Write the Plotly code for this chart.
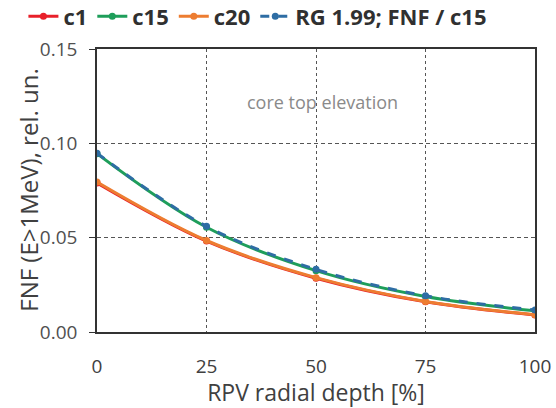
import plotly.graph_objects as go

depth = [0, 25, 50, 75, 100]
c1 = [0.0790, 0.0482, 0.0285, 0.0160, 0.0090]
c15 = [0.0945, 0.0555, 0.0325, 0.0188, 0.0112]
c20 = [0.0795, 0.0485, 0.0288, 0.0162, 0.0092]
rg = [0.0948, 0.0560, 0.0332, 0.0192, 0.0117]

series = [
    ("c1", c1, "#e8202a", "solid"),
    ("c15", c15, "#1e9e5a", "solid"),
    ("c20", c20, "#ed7d31", "solid"),
    ("RG 1.99; FNF / c15", rg, "#2e6da4", "dash"),
]

fig = go.Figure()
for name, vals, col, dash in series:
    fig.add_trace(go.Scatter(
        x=depth, y=vals, name="<b>" + name + "</b>", mode="lines+markers",
        line=dict(color=col, width=3, dash=dash, shape="spline"),
        marker=dict(size=7, color=col),
    ))

fig.add_annotation(x=51.4, y=0.122, text="core top elevation", showarrow=False,
                   font=dict(size=18, color="#8a8a8a", family="Open Sans"))
fig.add_annotation(xref="paper", yref="paper", x=-0.157, y=0.5, textangle=-90,
                   text="FNF (E>1MeV), rel. un.", showarrow=False,
                   xanchor="center", yanchor="middle",
                   font=dict(size=24, color="#404040", family="Open Sans"))

fig.update_layout(
    width=556, height=408,
    margin=dict(l=97, r=21, t=49, b=76, autoexpand=False),
    paper_bgcolor="white", plot_bgcolor="white",
    font=dict(family="Open Sans", color="#404040"),
    showlegend=True,
    legend=dict(orientation="h", x=-0.168, xanchor="left", y=1.115, yanchor="middle",
                font=dict(size=22, color="#303030", family="Open Sans"),
                itemwidth=30, tracegroupgap=0),
    xaxis=dict(range=[0, 100], tickvals=depth, ticktext=[str(v) for v in depth],
               showgrid=True, gridcolor="#555555", griddash="3px,3px", gridwidth=1.2,
               showline=True, linecolor="#333333", linewidth=1.5, mirror=True,
               zeroline=False, ticks="outside", ticklen=16, tickcolor="rgba(0,0,0,0)",
               automargin=False,
               tickfont=dict(size=19, color="#404040"),
               title=dict(text="RPV radial depth [%]", font=dict(size=23, color="#404040"), standoff=4)),
    yaxis=dict(range=[0, 0.15], tickvals=[0, 0.05, 0.10, 0.15],
               ticktext=["0.00", "0.05", "0.10", "0.15"],
               showgrid=True, gridcolor="#555555", griddash="4px,3px", gridwidth=1.2,
               showline=True, linecolor="#333333", linewidth=1.5, mirror=True,
               zeroline=False, ticks="outside", ticklen=6, tickcolor="#333333",
               automargin=False, ticklabelstandoff=8,
               tickfont=dict(size=19, color="#505050")),
)

fig.write_html("out.html", config={"displayModeBar": False},
               post_script="document.body.style.margin='0px';")
